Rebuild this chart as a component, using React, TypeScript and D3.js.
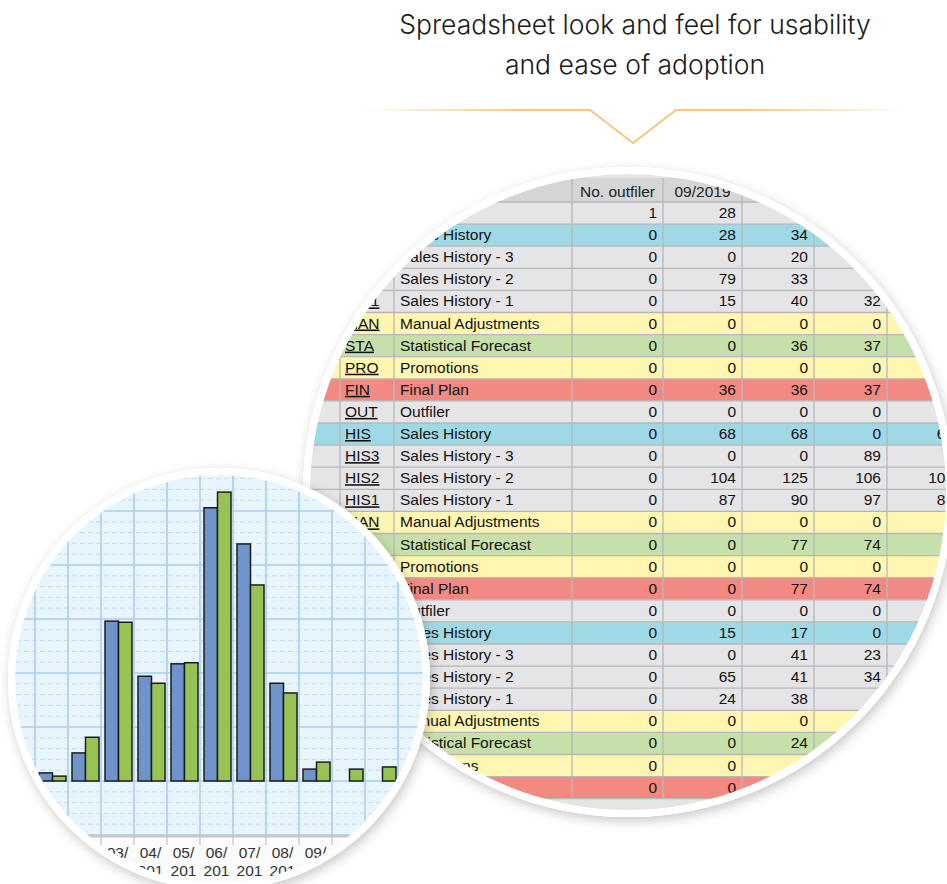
import React from "react";
import * as d3 from "d3";

// ---------- Title ----------
const titleLines = ["Spreadsheet look and feel for usability", "and ease of adoption"];

// ---------- Chart data ----------
const months = ["01/", "02/", "03/", "04/", "05/", "06/", "07/", "08/", "09/", "10/", "11/"];
const yearLine = "201";
const historyValues = [1.5, 5.2, 29.6, 19.4, 21.7, 50.6, 43.9, 18.1, 2.2, 0, 0];
const planValues = [0.9, 8.1, 29.4, 18.1, 21.9, 53.5, 36.3, 16.3, 3.5, 2.2, 2.6];
const seriesKeys = ["history", "plan"];
const seriesColors = ["#6e94c9", "#97c354"];

// ---------- Table data ----------
const headerLabels = ["", "", "", "No. outfiler", "09/2019", "", "", ""];
const rowCodes = ["OUT", "HIS", "HIS3", "HIS2", "HIS1", "MAN", "STA", "PRO", "FIN"];
const rowNames = [
  "Outfiler",
  "Sales History",
  "Sales History - 3",
  "Sales History - 2",
  "Sales History - 1",
  "Manual Adjustments",
  "Statistical Forecast",
  "Promotions",
  "Final Plan",
];
const rowKinds = ["gray", "blue", "gray", "gray", "gray", "yellow", "green", "yellow", "red"];
type V = number | null;
const block1: V[][] = [
  [1, 28, null, null, null],
  [0, 28, 34, null, null],
  [0, 0, 20, null, null],
  [0, 79, 33, null, null],
  [0, 15, 40, 32, null],
  [0, 0, 0, 0, null],
  [0, 0, 36, 37, null],
  [0, 0, 0, 0, null],
  [0, 36, 36, 37, null],
];
const block2: V[][] = [
  [0, 0, 0, 0, null],
  [0, 68, 68, 0, 68],
  [0, 0, 0, 89, null],
  [0, 104, 125, 106, 104],
  [0, 87, 90, 97, 87],
  [0, 0, 0, 0, null],
  [0, 0, 77, 74, null],
  [0, 0, 0, 0, null],
  [0, 0, 77, 74, null],
];
const block3: V[][] = [
  [0, 0, 0, 0, null],
  [0, 15, 17, 0, null],
  [0, 0, 41, 23, null],
  [0, 65, 41, 34, null],
  [0, 24, 38, null, null],
  [0, 0, 0, null, null],
  [0, 0, 24, null, null],
  [0, 0, null, null, null],
  [0, 0, null, null, null],
];

const kindColors: Record<string, string> = {
  gray: "#e5e5e8",
  blue: "#9fd9e6",
  yellow: "#fff6b1",
  green: "#c5e0a9",
  red: "#f38a82",
};

const FONT = "'Liberation Sans', Arial, sans-serif";

export default function App() {
  const W = 947;
  const H = 884;

  // big circle
  const bc = { x: 628, y: 492, r: 318 };
  // small circle
  const sc = { x: 219, y: 679, r: 204 };

  // table geometry
  const colEdges = [300, 340, 394, 572, 663, 742, 814, 887, 960];
  const headerTop = 178;
  const rowsTop = 202;
  const rowH = 22.1;
  const blocks = [block1, block2, block3];
  const rows = blocks.flatMap((b) =>
    b.map((vals, i) => ({ code: rowCodes[i], name: rowNames[i], kind: rowKinds[i], vals }))
  );
  const rowY = d3.scaleLinear().domain([0, 1]).range([rowsTop, rowsTop + rowH]);

  // chart scales
  const x = d3.scaleBand<string>().domain(months).range([35, 398]);
  const bw = x.bandwidth();
  const xs = d3.scaleBand<string>().domain(seriesKeys).range([4, bw - 2]);
  const y = d3.scaleLinear().domain([-10, 80]).range([835, 835 - 90 * 5.4]);
  const majorTicks = d3.range(-10, 81, 10);
  const minorTicks = d3.range(-10, 81, 2).filter((v) => v % 10 !== 0);
  const boundaries = [
    x(months[0])! - bw,
    ...months.map((m) => x(m)!),
    x(months[months.length - 1])! + bw,
    x(months[months.length - 1])! + 2 * bw,
  ];

  const gridColor = "#a9cdee";

  return (
    <svg
      width={W}
      height={H}
      viewBox={`0 0 ${W} ${H}`}
      style={{ position: "absolute", left: 0, top: 0, background: "#ffffff" }}
    >
      <defs>
        <clipPath id="bigClip">
          <circle cx={bc.x} cy={bc.y} r={bc.r} />
        </clipPath>
        <clipPath id="smallClip">
          <circle cx={sc.x} cy={sc.y} r={sc.r} />
        </clipPath>
        <filter id="shadow" x="-20%" y="-20%" width="140%" height="140%">
          <feDropShadow dx="2" dy="4" stdDeviation="6" floodColor="#000" floodOpacity="0.22" />
        </filter>
        <linearGradient id="lineGrad" gradientUnits="userSpaceOnUse" x1={360} y1={0} x2={908} y2={0}>
          <stop offset="0" stopColor="#f8c67f" stopOpacity="0" />
          <stop offset="0.3" stopColor="#f8c67f" stopOpacity="1" />
          <stop offset="0.7" stopColor="#f8c67f" stopOpacity="1" />
          <stop offset="1" stopColor="#f8c67f" stopOpacity="0" />
        </linearGradient>
      </defs>

      {/* Title */}
      <g fontFamily="Inter, 'Noto Sans', sans-serif" fontSize={26.5} fontWeight={300} fill="#1a1a1a" textAnchor="middle">
        <text x={635} y={34}>{titleLines[0]}</text>
        <text x={635} y={74}>{titleLines[1]}</text>
      </g>
      <path
        d="M362,110 L590,110 L633,143 L676,110 L906,110"
        fill="none"
        stroke="url(#lineGrad)"
        strokeWidth={2}
      />

      {/* Big circle: spreadsheet */}
      <circle cx={bc.x} cy={bc.y} r={bc.r + 7} fill="#ffffff" filter="url(#shadow)" />
      <g clipPath="url(#bigClip)" fontFamily={FONT} fontSize={15.5} fill="#111">
        <rect x={bc.x - bc.r} y={bc.y - bc.r} width={bc.r * 2} height={bc.r * 2} fill="#e5e5e8" />
        {/* header */}
        <rect
          x={colEdges[0]}
          y={headerTop}
          width={colEdges[colEdges.length - 1] - colEdges[0]}
          height={rowsTop - headerTop}
          fill="#d6d6d6"
        />
        {headerLabels.map((h, i) =>
          h ? (
            <text key={"h" + i} x={(colEdges[i] + colEdges[i + 1]) / 2} y={rowsTop - 5} textAnchor="middle" fill="#222">
              {h}
            </text>
          ) : null
        )}
        {/* rows */}
        {rows.map((r, i) => {
          const top = rowY(i);
          return (
            <g key={"r" + i}>
              <rect
                x={colEdges[0]}
                y={top}
                width={colEdges[colEdges.length - 1] - colEdges[0]}
                height={rowH}
                fill={kindColors[r.kind]}
              />
              <text x={colEdges[1] + 5} y={top + 16} textDecoration="underline">
                {r.code}
              </text>
              <text x={colEdges[2] + 6} y={top + 16}>
                {r.name}
              </text>
              {r.vals.map((v, j) =>
                v === null ? null : (
                  <text key={j} x={colEdges[j + 4] - 6} y={top + 16} textAnchor="end">
                    {v}
                  </text>
                )
              )}
            </g>
          );
        })}
        {/* grid lines */}
        {d3.range(rows.length + 1).map((i) => (
          <line
            key={"hl" + i}
            x1={colEdges[0]}
            x2={colEdges[colEdges.length - 1]}
            y1={rowY(i)}
            y2={rowY(i)}
            stroke="#b7b7b9"
            strokeWidth={1.3}
          />
        ))}
        {colEdges.map((cx, i) => (
          <line key={"vl" + i} x1={cx} x2={cx} y1={headerTop} y2={rowY(rows.length)} stroke="#b7b7b9" strokeWidth={1.3} />
        ))}
      </g>
      <circle cx={bc.x} cy={bc.y} r={bc.r + 3.5} fill="none" stroke="#ffffff" strokeWidth={7} />

      {/* Small circle: bar chart */}
      <circle cx={sc.x} cy={sc.y} r={sc.r + 7} fill="#ffffff" filter="url(#shadow)" />
      <g clipPath="url(#smallClip)" fontFamily={FONT} fontSize={15.5}>
        <rect x={sc.x - sc.r} y={sc.y - sc.r} width={sc.r * 2} height={sc.r * 2} fill="#fbfbfb" />
        <rect x={sc.x - sc.r} y={sc.y - sc.r} width={sc.r * 2} height={y(-10) - (sc.y - sc.r)} fill="#e8f5fd" />
        {minorTicks.map((t) => (
          <line key={"mn" + t} x1={0} x2={440} y1={y(t)} y2={y(t)} stroke="#c6dcef" strokeWidth={1} strokeDasharray="5,3" />
        ))}
        {majorTicks.map((t) => (
          <line key={"mj" + t} x1={0} x2={440} y1={y(t)} y2={y(t)} stroke={gridColor} strokeWidth={1.6} />
        ))}
        {boundaries.map((b, i) => (
          <line key={"vb" + i} x1={b} x2={b} y1={sc.y - sc.r} y2={y(-10)} stroke={gridColor} strokeWidth={1.6} />
        ))}
        {/* bars */}
        {months.map((m, i) => {
          const vals = [historyValues[i], planValues[i]];
          return (
            <g key={"b" + m}>
              {vals.map((v, k) =>
                v > 0 ? (
                  <rect
                    key={k}
                    x={x(m)! + xs(seriesKeys[k])!}
                    y={y(v)}
                    width={xs.bandwidth()}
                    height={y(0) - y(v)}
                    fill={seriesColors[k]}
                    stroke="#1c1c1c"
                    strokeWidth={1.5}
                  />
                ) : null
              )}
            </g>
          );
        })}
        {/* axis */}
        <line x1={0} x2={440} y1={y(-10) + 1} y2={y(-10) + 1} stroke="#c9c9c9" strokeWidth={3} />
        {boundaries.map((b, i) => (
          <line key={"tk" + i} x1={b} x2={b} y1={y(-10)} y2={y(-10) + 10} stroke="#c4c4c4" strokeWidth={1.2} />
        ))}
        {months.map((m) => (
          <g key={"lb" + m} fill="#333" textAnchor="middle">
            <text x={x(m)! + bw / 2} y={858}>{m}</text>
            <text x={x(m)! + bw / 2} y={876}>{yearLine}</text>
          </g>
        ))}
      </g>
      <circle cx={sc.x} cy={sc.y} r={sc.r + 3.5} fill="none" stroke="#ffffff" strokeWidth={7} />
    </svg>
  );
}
